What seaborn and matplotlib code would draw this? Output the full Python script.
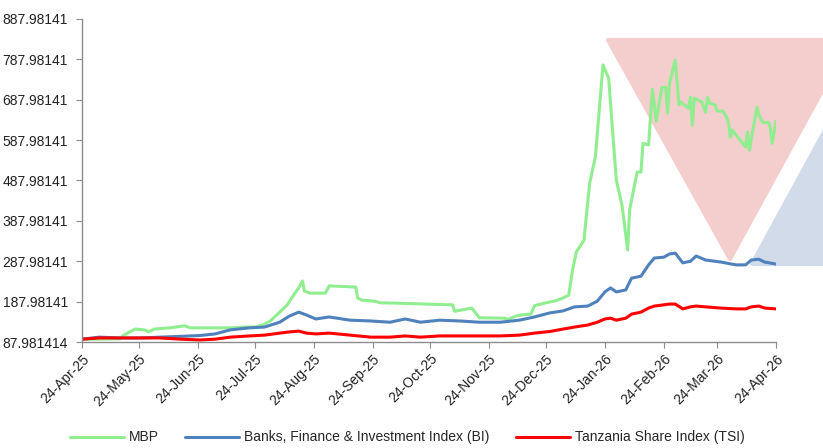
import matplotlib
matplotlib.use("Agg")
import matplotlib.pyplot as plt
import matplotlib.dates as mdates
from matplotlib.patches import Polygon
import pandas as pd
import seaborn as sns

# MBP share price
mbp_dates = [
    "2025-04-24", "2025-05-03", "2025-05-14", "2025-05-16", "2025-05-18", "2025-05-22",
    "2025-05-27", "2025-05-29", "2025-06-01", "2025-06-09", "2025-06-17", "2025-06-20",
    "2025-07-11", "2025-07-19", "2025-07-24", "2025-07-28", "2025-08-01", "2025-08-06",
    "2025-08-10", "2025-08-13", "2025-08-16", "2025-08-18", "2025-08-19", "2025-08-22",
    "2025-08-30", "2025-09-01", "2025-09-15", "2025-09-16", "2025-09-18", "2025-09-25",
    "2025-09-28", "2025-10-07", "2025-11-05", "2025-11-06", "2025-11-15", "2025-11-19",
    "2025-12-02", "2025-12-04", "2025-12-08", "2025-12-11", "2025-12-16", "2025-12-18",
    "2025-12-24", "2025-12-29", "2026-01-01", "2026-01-05", "2026-01-07", "2026-01-09",
    "2026-01-13", "2026-01-16", "2026-01-19", "2026-01-23", "2026-01-26", "2026-01-30",
    "2026-02-02", "2026-02-05", "2026-02-06", "2026-02-10", "2026-02-12", "2026-02-13",
    "2026-02-16", "2026-02-18", "2026-02-20", "2026-02-23", "2026-02-25", "2026-02-26",
    "2026-02-27", "2026-03-02", "2026-03-04", "2026-03-05", "2026-03-09", "2026-03-10",
    "2026-03-11", "2026-03-12", "2026-03-16", "2026-03-18", "2026-03-19", "2026-03-20",
    "2026-03-23", "2026-03-24", "2026-03-27", "2026-03-29", "2026-03-30", "2026-03-31",
    "2026-04-01", "2026-04-04", "2026-04-08", "2026-04-09", "2026-04-10", "2026-04-14",
    "2026-04-15", "2026-04-17", "2026-04-20", "2026-04-21", "2026-04-22", "2026-04-24",
]
mbp_values = [
    95, 95, 96, 105, 110, 120,
    118, 113, 120, 123, 128, 123,
    123, 125, 125, 130, 140, 162,
    180, 202, 222, 239, 214, 209,
    209, 227, 224, 197, 192, 189,
    185, 184, 180, 164, 172, 148,
    147, 144, 152, 155, 157, 178,
    185, 190, 195, 204, 266, 311,
    340, 481, 546, 774, 741, 489,
    427, 316, 415, 509, 509, 580,
    576, 714, 635, 719, 719, 655,
    729, 786, 675, 682, 667, 694,
    625, 692, 682, 657, 694, 680,
    675, 660, 660, 645, 632, 595,
    613, 595, 571, 608, 563, 670,
    650, 632, 632, 618, 580, 635,
]

# index levels (rebased)
index_dates = [
    "2025-04-24", "2025-05-03", "2025-05-14", "2025-05-25", "2025-06-04", "2025-06-15",
    "2025-06-25", "2025-07-03", "2025-07-11", "2025-07-21", "2025-07-29", "2025-08-06",
    "2025-08-11", "2025-08-16", "2025-08-20", "2025-08-25", "2025-09-01", "2025-09-12",
    "2025-09-23", "2025-10-03", "2025-10-11", "2025-10-19", "2025-10-29", "2025-11-09",
    "2025-11-19", "2025-11-30", "2025-12-10", "2025-12-18", "2025-12-26", "2026-01-02",
    "2026-01-08", "2026-01-15", "2026-01-20", "2026-01-24", "2026-01-27", "2026-01-30",
    "2026-02-04", "2026-02-07", "2026-02-12", "2026-02-16", "2026-02-19", "2026-02-24",
    "2026-02-27", "2026-03-02", "2026-03-06", "2026-03-10", "2026-03-13", "2026-03-18",
    "2026-03-26", "2026-04-03", "2026-04-08", "2026-04-11", "2026-04-15", "2026-04-18",
    "2026-04-24",
]
bi_values = [
    95, 100, 98, 98, 100, 102,
    104, 108, 118, 123, 125, 137,
    152, 162, 155, 145, 150, 142,
    140, 137, 145, 137, 142, 140,
    137, 137, 142, 150, 160, 165,
    175, 177, 189, 212, 222, 212,
    217, 246, 251, 279, 296, 298,
    306, 308, 284, 288, 301, 291,
    286, 279, 279, 291, 293, 286,
    281,
]
tsi_values = [
    95, 98, 98, 98, 98, 95,
    93, 95, 100, 103, 105, 110,
    113, 115, 110, 108, 110, 105,
    100, 100, 103, 100, 103, 103,
    103, 103, 105, 110, 114, 120,
    125, 130, 137, 145, 147, 142,
    147, 157, 162, 172, 177, 180,
    182, 182, 170, 175, 177, 175,
    172, 170, 170, 175, 177, 172,
    170,
]

y_ticks = [87.981414, 187.98141, 287.98141, 387.98141, 487.98141,
           587.98141, 687.98141, 787.98141, 887.98141]

series_names = ["MBP", "Banks, Finance & Investment Index (BI)", "Tanzania Share Index (TSI)"]
series_colors = ["#90EE90", "#4F81BD", "#FF0000"]

sns.set_style("white")
plt.rcParams["font.family"] = ["Liberation Sans", "DejaVu Sans"]
plt.rcParams["font.size"] = 10

mbp_df = pd.DataFrame({"date": pd.to_datetime(mbp_dates), "value": mbp_values})
idx_df = pd.DataFrame({"date": pd.to_datetime(index_dates), "BI": bi_values, "TSI": tsi_values})

fig = plt.figure(figsize=(8.23, 4.48), dpi=100)
ax = fig.add_axes([0.0996, 0.2366, 0.8433, 0.721])
ax.set_facecolor("none")

# decorative triangles behind the plot
pink = Polygon([(608 / 823, 1 - 40 / 448), (850 / 823, 1 - 40 / 448), (730 / 823, 1 - 259 / 448)],
               closed=True, transform=fig.transFigure, facecolor="#F4CDCD",
               edgecolor="#F4CDCD", linewidth=3, joinstyle="round", zorder=-1)
blue = Polygon([(752 / 823, 1 - 264 / 448), (872 / 823, 1 - 44 / 448), (994 / 823, 1 - 264 / 448)],
               closed=True, transform=fig.transFigure, facecolor="#D2DBEA",
               edgecolor="#D2DBEA", linewidth=3, joinstyle="round", zorder=-1)
fig.patches.extend([pink, blue])

sns.lineplot(data=mbp_df, x="date", y="value", ax=ax, color=series_colors[0],
             linewidth=2.2, label=series_names[0])
sns.lineplot(data=idx_df, x="date", y="BI", ax=ax, color=series_colors[1],
             linewidth=2.2, label=series_names[1])
sns.lineplot(data=idx_df, x="date", y="TSI", ax=ax, color=series_colors[2],
             linewidth=2.2, label=series_names[2])

ax.set_xlim(pd.Timestamp("2025-04-24"), pd.Timestamp("2026-04-24"))
ax.set_ylim(y_ticks[0], y_ticks[-1])
ax.set_yticks(y_ticks)
ax.set_yticklabels([f"{v:.8g}" for v in y_ticks])
ax.xaxis.set_major_locator(mdates.MonthLocator(bymonthday=24))
ax.xaxis.set_major_formatter(mdates.DateFormatter("%d-%b-%y"))
for lbl in ax.get_xticklabels():
    lbl.set_rotation(45)
    lbl.set_ha("right")
    lbl.set_rotation_mode("anchor")

ax.set_xlabel("")
ax.set_ylabel("")
for side in ["top", "right"]:
    ax.spines[side].set_visible(False)
for side in ["left", "bottom"]:
    ax.spines[side].set_color("#8C8C8C")
    ax.spines[side].set_linewidth(1)
ax.tick_params(axis="both", which="major", direction="out", length=4,
               color="#8C8C8C", labelsize=10, labelcolor="#222222", bottom=True, left=True)
ax.tick_params(axis="y", pad=6)
ax.tick_params(axis="x", pad=3)

handles, labels = ax.get_legend_handles_labels()
ax.get_legend().remove()
fig.legend(handles, labels, loc="lower center", bbox_to_anchor=(0.495, -0.02), ncol=3,
           frameon=False, fontsize=10, handlelength=3.9, handletextpad=0.35,
           columnspacing=1.9)

fig.savefig("out.png", dpi=100)
